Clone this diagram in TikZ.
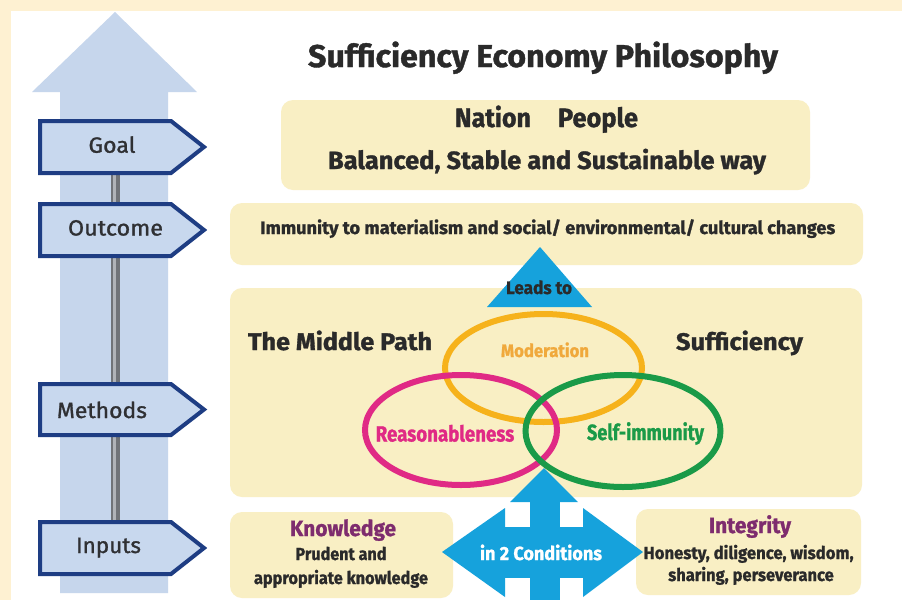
\documentclass[tikz,border=0pt]{standalone}
\usepackage{fontspec}
\usepackage{graphicx}
\setmainfont{Fira Sans}[BoldFeatures={FakeBold=1.2}]
\newfontfamily\labfont[FakeBold=1.2]{Fira Sans}
\definecolor{creamframe}{HTML}{FEF1D2}
\definecolor{bigarrow}{HTML}{C6D6EC}
\definecolor{postfill}{HTML}{C8D8EE}
\definecolor{postline}{HTML}{1E3D83}
\definecolor{boxfill}{HTML}{F9EFC4}
\definecolor{darktext}{HTML}{2A2A2A}
\definecolor{labtext}{HTML}{2F3033}
\definecolor{ellorange}{HTML}{F6B21B}
\definecolor{txtorange}{HTML}{F0A93C}
\definecolor{ellpink}{HTML}{E02A85}
\definecolor{ellgreen}{HTML}{1A9A48}
\definecolor{purp}{HTML}{7E2C6E}
\definecolor{brightblue}{HTML}{16A2DC}
\definecolor{graydark}{HTML}{707378}
\definecolor{graylight}{HTML}{B0B3B8}
\newcommand{\cb}[3]{\resizebox{#1pt}{\height}{\fontsize{#2}{#2}\selectfont\bfseries #3}}
\newcommand{\lb}[3]{\resizebox{#1pt}{\height}{\fontsize{#2}{#2}\selectfont\labfont #3}}
\tikzset{
  post/.style={fill=postfill, draw=postline, line width=4pt, line join=miter},
  cbox/.style={fill=boxfill, rounded corners=12pt},
  txt/.style={anchor=base, inner sep=0pt, text=darktext},
  ell/.style={line width=6pt}
}
\begin{document}
\begin{tikzpicture}[x=1pt,y=-1pt]
\useasboundingbox (0,0) rectangle (902,600);
% frame
\fill[creamframe] (0,0) rectangle (902,600);
\fill[white] (11,11) rectangle (902,600);
% big arrow
\fill[bigarrow] (115,12) -- (197,92) -- (168,92) -- (168,593) -- (60,593) -- (60,92) -- (32,92) -- cycle;
% gray pole
\fill[graydark] (110.5,170) rectangle (120,525);
\fill[graylight] (113,170) rectangle (115.5,525);
% signposts
\draw[post] (40,121) -- (171,121) -- (204,147) -- (171,173) -- (40,173) -- cycle;
\draw[post] (40,204) -- (171,204) -- (204,230) -- (171,256) -- (40,256) -- cycle;
\draw[post] (40,384) -- (171,384) -- (204,409.5) -- (171,435) -- (40,435) -- cycle;
\draw[post] (40,522) -- (171,522) -- (204,548) -- (171,574) -- (40,574) -- cycle;
\node[txt, text=labtext] (goal) at (112,152.7) {\lb{47}{22}{Goal}};
\node[txt, text=labtext] (outcome) at (115.5,235.5) {\lb{95}{22}{Outcome}};
\node[txt, text=labtext] (methods) at (102,418) {\lb{90}{22}{Methods}};
\node[txt, text=labtext] (inputs) at (108.5,553) {\lb{65}{22}{Inputs}};
% boxes
\fill[cbox] (281,100) rectangle (810,190);
\fill[cbox] (230,203) rectangle (863,265);
\fill[cbox] (230,288) rectangle (862,497);
\fill[cbox] (230,512) rectangle (453,598);
\fill[cbox] (636,509) rectangle (861,595);
% leads-to triangle
\fill[brightblue] (540,247) -- (592,307) -- (487,307) -- cycle;
% four-way arrow
\fill[brightblue] (544,468) -- (578,502) -- (510,502) -- cycle;
\fill[brightblue] (530,500) rectangle (560,600);
\fill[brightblue] (505,527) rectangle (583,578);
\fill[brightblue] (442,552) -- (505,508) -- (505,597) -- cycle;
\fill[brightblue] (643,552) -- (583,508) -- (583,597) -- cycle;
% ellipses
\draw[ell, ellorange] (543.5,368) ellipse [x radius=98.5pt, y radius=54pt];
\draw[ell, ellpink] (461,430) ellipse [x radius=96pt, y radius=55pt];
\draw[ell, ellgreen] (623,431) ellipse [x radius=97.5pt, y radius=56pt];
% texts
\node[txt] (title) at (543,67) {\cb{470}{31.5}{Sufficiency Economy Philosophy}};
\node[txt] (nation) at (493,127) {\cb{76}{26.5}{Nation}};
\node[txt] (people) at (598,127) {\cb{80}{26.5}{People}};
\node[txt] (balanced) at (547,169) {\cb{438}{25}{Balanced, Stable and Sustainable way}};
\node[txt] (immunity) at (547.7,234) {\cb{575}{18}{Immunity to materialism and social/ environmental/ cultural changes}};
\node[txt] (leads) at (539,294) {\cb{66}{18}{Leads to}};
\node[txt] (middle) at (340,350) {\cb{184}{24}{The Middle Path}};
\node[txt] (suff) at (739.5,350) {\cb{127}{24}{Sufficiency}};
\node[txt, text=txtorange] (moder) at (545,357) {\cb{88}{18}{Moderation}};
\node[txt, text=ellpink] (reason) at (445,441.5) {\cb{138.5}{22}{Reasonableness}};
\node[txt, text=ellgreen] (selfimm) at (645.5,440) {\cb{117}{22}{Self-immunity}};
\node[txt, text=white] (cond) at (541,560) {\cb{122}{19}{in 2 Conditions}};
\node[txt, text=purp] (know) at (343,536) {\cb{106}{22}{Knowledge}};
\node[txt] (prud) at (341,560) {\cb{91}{17.5}{Prudent and}};
\node[txt] (appr) at (341,584) {\cb{174}{17.5}{appropriate knowledge}};
\node[txt, text=purp] (integ) at (750,533) {\cb{82}{22}{Integrity}};
\node[txt] (hon) at (748.6,559) {\cb{210}{17.5}{Honesty, diligence, wisdom,}};
\node[txt] (shar) at (751,581) {\cb{165.5}{17.5}{sharing, perseverance}};
\end{tikzpicture}
\end{document}
